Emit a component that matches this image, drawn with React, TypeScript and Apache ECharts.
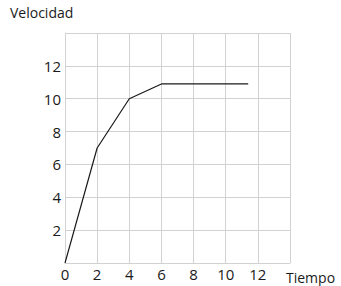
import React, { useEffect, useRef } from "react";
import * as echarts from "echarts";

const tiempo = [0, 2, 4, 6, 11.4];
const velocidad = [0, 7, 10, 10.9, 10.9];
const xTickLabels = ["0", "2", "4", "6", "8", "10", "12"];
const yTickLabels = ["2", "4", "6", "8", "10", "12"];
const yTitle = "Velocidad";
const xTitle = "Tiempo";

export default function App() {
  const ref = useRef<HTMLDivElement>(null);
  useEffect(() => {
    const chart = echarts.init(ref.current!, null, { renderer: "svg" });
    const font = "'Open Sans', sans-serif";
    const gridColor = "#d2d2d2";
    chart.setOption({
      animation: false,
      backgroundColor: "#ffffff",
      grid: { left: 65, top: 33, width: 225, height: 230 },
      xAxis: {
        type: "value",
        min: 0,
        max: 14,
        interval: 2,
        axisLine: { show: true, lineStyle: { color: gridColor, width: 1 } },
        axisTick: { show: false },
        splitLine: { show: true, lineStyle: { color: gridColor, width: 1 } },
        axisLabel: {
          color: "#1a1a1a",
          fontFamily: font,
          fontSize: 15,
          margin: 3,
          formatter: (v: number) => (xTickLabels.includes(String(v)) ? String(v) : ""),
        },
      },
      yAxis: {
        type: "value",
        min: 0,
        max: 14,
        interval: 2,
        axisLine: { show: true, lineStyle: { color: gridColor, width: 1 } },
        axisTick: { show: false },
        splitLine: { show: true, lineStyle: { color: gridColor, width: 1 } },
        axisLabel: {
          color: "#1a1a1a",
          fontFamily: font,
          fontSize: 15,
          margin: 4,
          formatter: (v: number) => (yTickLabels.includes(String(v)) ? String(v) : ""),
        },
      },
      graphic: [
        {
          type: "text",
          left: 10,
          top: 5,
          style: { text: yTitle, fill: "#1a1a1a", font: `14px ${font}` },
        },
        {
          type: "text",
          left: 286,
          top: 270,
          style: { text: xTitle, fill: "#1a1a1a", font: `14px ${font}` },
        },
      ],
      series: [
        {
          type: "line",
          data: tiempo.map((t, i) => [t, velocidad[i]]),
          showSymbol: false,
          symbol: "none",
          lineStyle: { color: "#1a1a1a", width: 1.2 },
        },
      ],
    });
    return () => chart.dispose();
  }, []);
  return <div ref={ref} style={{ width: 341, height: 286, position: "absolute", left: 0, top: 0 }} />;
}
